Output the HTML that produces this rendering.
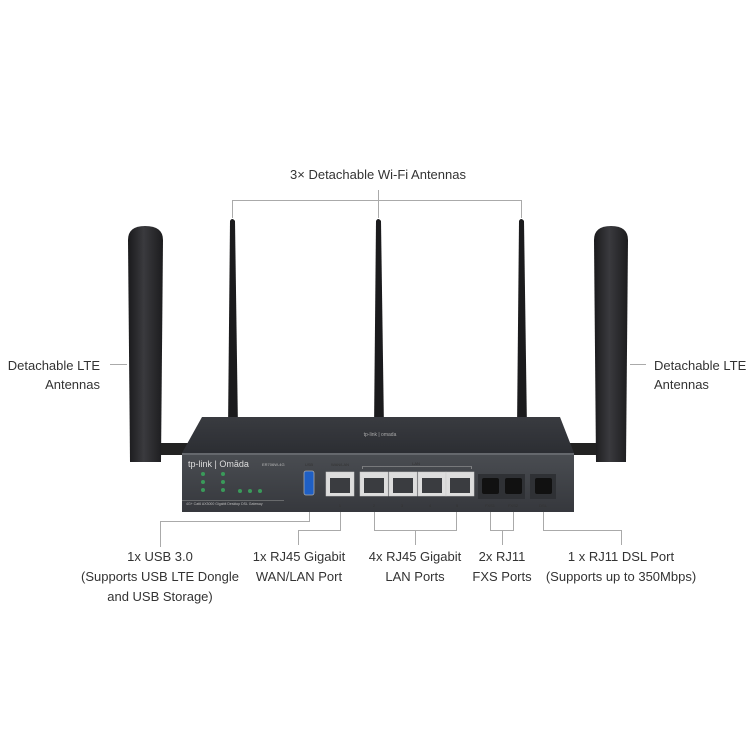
<!DOCTYPE html>
<html><head><meta charset="utf-8"><style>
html,body{margin:0;padding:0;background:#fff}
svg{display:block}
text{font-family:"Liberation Sans",sans-serif;fill:#333}
</style></head><body>
<svg width="750" height="750" viewBox="0 0 750 750" xmlns="http://www.w3.org/2000/svg">
<defs>
<linearGradient id="lte" x1="0" x2="1" y1="0" y2="0">
<stop offset="0" stop-color="#1a1a1c"/><stop offset="0.45" stop-color="#3a3a3e"/><stop offset="1" stop-color="#1c1c1e"/></linearGradient>
<linearGradient id="top" x1="0" x2="0" y1="0" y2="1">
<stop offset="0" stop-color="#393b40"/><stop offset="1" stop-color="#2c2e33"/></linearGradient>
<linearGradient id="front" x1="0" x2="0" y1="0" y2="1">
<stop offset="0" stop-color="#4a4d52"/><stop offset="1" stop-color="#36383d"/></linearGradient>
</defs>
<g stroke="#aaa" stroke-width="1" fill="none">
<path d="M232.5 218V200.5H521.5V218M378.5 190V218"/>
<path d="M110 364.5H127M630 364.5H646"/>
<path d="M309.5 512V521.5H160.5V547"/>
<path d="M340.5 512V530.5H298.5V545"/>
<path d="M374.5 512V530.5H456.5V512M415.5 530V545"/>
<path d="M490.5 512V530.5H513.5V512M502.5 530V545"/>
<path d="M543.5 512V530.5H621.5V545"/>
</g>
<text x="378" y="179" font-size="13" text-anchor="middle">3× Detachable Wi-Fi Antennas</text>
<text x="100" y="370" font-size="13" text-anchor="end">Detachable LTE</text>
<text x="100" y="389" font-size="13" text-anchor="end">Antennas</text>
<text x="654" y="370" font-size="13">Detachable LTE</text>
<text x="654" y="389" font-size="13">Antennas</text>
<g font-size="13" text-anchor="middle">
<text x="160" y="561">1x USB 3.0</text>
<text x="160" y="581">(Supports USB LTE Dongle</text>
<text x="160" y="601">and USB Storage)</text>
<text x="299" y="561">1x RJ45 Gigabit</text>
<text x="299" y="581">WAN/LAN Port</text>
<text x="415" y="561">4x RJ45 Gigabit</text>
<text x="415" y="581">LAN Ports</text>
<text x="502" y="561">2x RJ11</text>
<text x="502" y="581">FXS Ports</text>
<text x="621" y="561">1 x RJ11 DSL Port</text>
<text x="621" y="581">(Supports up to 350Mbps)</text>
</g>
<g fill="#1b1b1d">
<path d="M230 221Q232 217 235 221L238 430H228Z"/>
<path d="M376 221Q378 217 381 221L384 430H374Z"/>
<path d="M519 221Q521 217 524 221L527 430H517Z"/>
</g>
<rect x="155" y="443" width="40" height="12" rx="3" fill="#222"/>
<rect x="560" y="443" width="40" height="12" rx="3" fill="#222"/>
<path d="M128 240Q128 226 145 226Q163 226 163 240L161 462H130Z" fill="url(#lte)"/>
<path d="M594 240Q594 226 611 226Q628 226 628 240L626 462H596Z" fill="url(#lte)"/>
<path d="M202 417H560L574 453H182Z" fill="url(#top)"/>
<rect x="182" y="453" width="392" height="59" fill="url(#front)"/>
<rect x="182" y="453" width="392" height="2" fill="#65686d"/>
<text x="380" y="436" font-size="5" text-anchor="middle" style="fill:#aaa">tp-link | omada</text>
<text x="188" y="467" font-size="9" style="fill:#ddd">tp-link | Omāda</text>
<text x="262" y="466" font-size="4" style="fill:#bbb">ER706W-4G</text>
<g fill="#3a9a5a"><circle cx="203" cy="474" r="2"/><circle cx="203" cy="482" r="2"/><circle cx="203" cy="490" r="2"/><circle cx="223" cy="474" r="2"/><circle cx="223" cy="482" r="2"/><circle cx="223" cy="490" r="2"/><circle cx="240" cy="491" r="2"/><circle cx="250" cy="491" r="2"/><circle cx="260" cy="491" r="2"/></g>
<text x="186" y="505" font-size="3.5" style="fill:#bbb">4G+ Cat6 AX3000 Gigabit Desktop DSL Gateway</text>
<rect x="182" y="500" width="102" height="0.6" fill="#888"/>
<rect x="304" y="471" width="10" height="24" rx="2" fill="#1f5fc4" stroke="#aaa" stroke-width="0.8"/>
<g fill="#ddd" stroke="#ccc" stroke-width="0.5">
<rect x="326" y="472" width="28" height="24"/>
<rect x="360" y="472" width="28" height="24"/>
<rect x="389" y="472" width="28" height="24"/>
<rect x="418" y="472" width="28" height="24"/>
<rect x="446" y="472" width="28" height="24"/>
</g>
<g fill="#3a3c40">
<rect x="330" y="478" width="20" height="15"/>
<rect x="364" y="478" width="20" height="15"/>
<rect x="393" y="478" width="20" height="15"/>
<rect x="422" y="478" width="20" height="15"/>
<rect x="450" y="478" width="20" height="15"/>
</g>
<rect x="478" y="474" width="47" height="25" fill="#2f3135"/>
<rect x="530" y="474" width="26" height="25" fill="#2f3135"/>
<g fill="#111"><rect x="482" y="478" width="17" height="16" rx="2"/><rect x="505" y="478" width="17" height="16" rx="2"/><rect x="535" y="478" width="17" height="16" rx="2"/></g>
<path d="M362.5 469V466.5H471.5V469" stroke="#aaa" stroke-width="0.6" fill="none"/>
<g font-size="4" style="fill:#ccc" text-anchor="middle">
<text x="309" y="466">USB</text><text x="340" y="466">WAN/LAN</text><text x="416" y="465">LAN</text>
<text x="340" y="507">1</text><text x="374" y="507">2</text><text x="402" y="507">3</text><text x="430" y="507">4</text><text x="457" y="507">5</text>
<text x="490" y="507">FXS1</text><text x="513" y="507">FXS2</text><text x="543" y="507">DSL</text>
</g>
</svg>
</body></html>
